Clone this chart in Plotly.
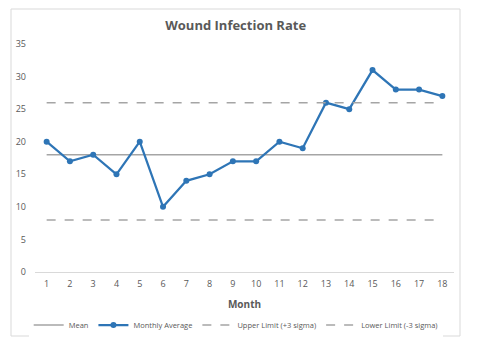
import plotly.graph_objects as go

months = list(range(1, 19))
monthly_avg = [20, 17, 18, 15, 20, 10, 14, 15, 17, 17, 20, 19, 26, 25, 31, 28, 28, 27]
mean_val = 18
upper_limit = 26
lower_limit = 8

gray = "#a5a5a5"
blue = "#2e75b6"
txt = "#595959"

fig = go.Figure()
fig.add_trace(go.Scatter(x=months, y=[mean_val] * len(months), mode="lines", name="Mean",
                         line=dict(color=gray, width=1.5)))
fig.add_trace(go.Scatter(x=months, y=monthly_avg, mode="lines+markers", name="Monthly Average",
                         line=dict(color=blue, width=2.25), marker=dict(color=blue, size=6)))
fig.add_trace(go.Scatter(x=months, y=[upper_limit] * len(months), mode="lines", name="Upper Limit (+3 sigma)",
                         line=dict(color=gray, width=1.5, dash="dash")))
fig.add_trace(go.Scatter(x=months, y=[lower_limit] * len(months), mode="lines", name="Lower Limit (-3 sigma)",
                         line=dict(color=gray, width=1.5, dash="dash")))

L, R, T, B = 35, 454, 44, 272
W, H = 481, 345
pw, ph = R - L, B - T

fig.update_layout(
    width=W, height=H,
    margin=dict(l=L, r=W - R, t=T, b=H - B, autoexpand=False),
    paper_bgcolor="white", plot_bgcolor="white",
    font=dict(family="Open Sans, Arial, sans-serif", color=txt, size=9),
    title=dict(text="<b>Wound Infection Rate</b>", x=0.49, xanchor="center",
               y=1 - 25 / H, yanchor="middle", yref="container",
               font=dict(size=13, color=txt)),
    showlegend=True,
    legend=dict(orientation="h", xref="container", x=0.49, xanchor="center",
                yref="container", y=1 - 325 / H, yanchor="middle",
                font=dict(size=7.5, color=txt), itemwidth=30, tracegroupgap=0),
    xaxis=dict(range=[0.5, 18.5], tickmode="array", tickvals=months, ticktext=[str(m) for m in months],
               showgrid=False, zeroline=False, showline=False, ticks="", automargin=False,
               ticklabelstandoff=5,
               title=dict(text="<b>Month</b>", font=dict(size=10, color=txt), standoff=20),
               fixedrange=True),
    yaxis=dict(range=[0, 35], tickvals=[0, 5, 10, 15, 20, 25, 30, 35], showgrid=False,
               zeroline=True, zerolinecolor="#d9d9d9", zerolinewidth=1, automargin=False,
               showline=False, ticks="", ticklabelstandoff=8),
)

fig.add_shape(type="rect", xref="paper", yref="paper",
              x0=(11 - L) / pw, x1=(460 - L) / pw,
              y0=(B - 336) / ph, y1=(B - 9) / ph,
              line=dict(color="#d9d9d9", width=1), layer="below")

fig.write_html("out.html")
